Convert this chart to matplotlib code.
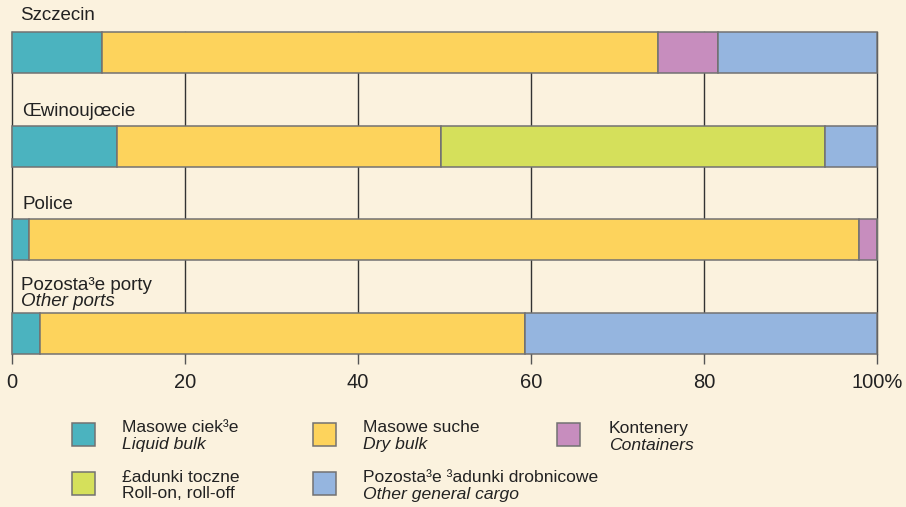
import matplotlib
matplotlib.use("Agg")
import matplotlib.pyplot as plt
from matplotlib.patches import Rectangle
import numpy as np

plt.rcParams['font.family'] = ['Liberation Sans', 'DejaVu Sans']

ports = ["Szczecin", "Œwinoujœcie", "Police", "Pozosta³e porty"]
ports_en = ["", "", "", "Other ports"]

liquid = [10.4, 12.1, 2.0, 3.2]
dry = [64.3, 37.5, 95.9, 56.1]
containers = [6.9, 0.0, 2.1, 0.0]
roro = [0.0, 44.4, 0.0, 0.0]
other = [18.4, 6.0, 0.0, 40.7]

series = [liquid, dry, containers, roro, other]
series_pl = ["Masowe ciek³e", "Masowe suche", "Kontenery", "£adunki toczne", "Pozosta³e ³adunki drobnicowe"]
series_en = ["Liquid bulk", "Dry bulk", "Containers", "Roll-on, roll-off", "Other general cargo"]
series_en_italic = [True, True, True, False, True]
colors = ["#4BB3BF", "#FDD35C", "#C78DBE", "#D5E05B", "#95B5DF"]

xticks = [0, 20, 40, 60, 80, 100]
xticklabels = ["0", "20", "40", "60", "80", "100%"]

bg = "#FBF2DE"
W, H = 906, 507
fig = plt.figure(figsize=(W / 100, H / 100), dpi=100, facecolor=bg)

h = 0.438
ax_left, ax_right = 12, 877.3
ax_top, ax_bot = 32, 354
ax = fig.add_axes([ax_left / W, 1 - ax_bot / H, (ax_right - ax_left) / W, (ax_bot - ax_top) / H])
ax.set_facecolor(bg)

y = np.arange(len(ports))
left = np.zeros(len(ports))
for vals, col in zip(series, colors):
    vals = np.array(vals)
    ax.barh(y, vals, left=left, height=h, color=col, edgecolor="#727272", linewidth=1.1,
            zorder=3, clip_on=False)
    left += vals

ax.set_xlim(0, 100)
ax.set_ylim(len(ports) - 1 + h / 2, -h / 2)

for xv in xticks:
    ax.axvline(xv, color="#333333", linewidth=1.0, zorder=1, clip_on=False)

for s in ax.spines.values():
    s.set_visible(False)

ax.set_yticks([])
ax.set_xticks(xticks)
ax.set_xticklabels(xticklabels)
ax.tick_params(axis="x", direction="out", length=7.5, width=1.0, color="#555555",
               pad=6, labelsize=14.5, labelcolor="#222222")

# Category labels
label_pos = [(20, 15), (22, 112), (22, 204), (21, 285.5)]
for i, (name, (px, py)) in enumerate(zip(ports, label_pos)):
    fig.text(px / W, 1 - py / H, name, fontsize=13.5, color="#222222", ha="left", va="center")
    if ports_en[i]:
        fig.text(px / W, 1 - 302 / H, ports_en[i], fontsize=13.5, style="italic",
                 color="#222222", ha="left", va="center")

# Legend
leg_layout = [(72, 423, 122), (313, 423, 363), (557, 423, 609), (72, 472, 122), (313, 472, 363)]
for i, (px, py, tx) in enumerate(leg_layout):
    fig.patches.append(Rectangle((px / W, 1 - (py + 23) / H), 23 / W, 23 / H,
                                 transform=fig.transFigure, facecolor=colors[i],
                                 edgecolor="#727272", linewidth=1.1))
    l1 = py + 5
    l2 = py + 22
    fig.text(tx / W, 1 - l1 / H, series_pl[i], fontsize=12.6, color="#222222", ha="left", va="center")
    fig.text(tx / W, 1 - l2 / H, series_en[i], fontsize=12.6, color="#222222", ha="left", va="center",
             style="italic" if series_en_italic[i] else "normal")

fig.savefig("out.png", dpi=100, facecolor=bg)
